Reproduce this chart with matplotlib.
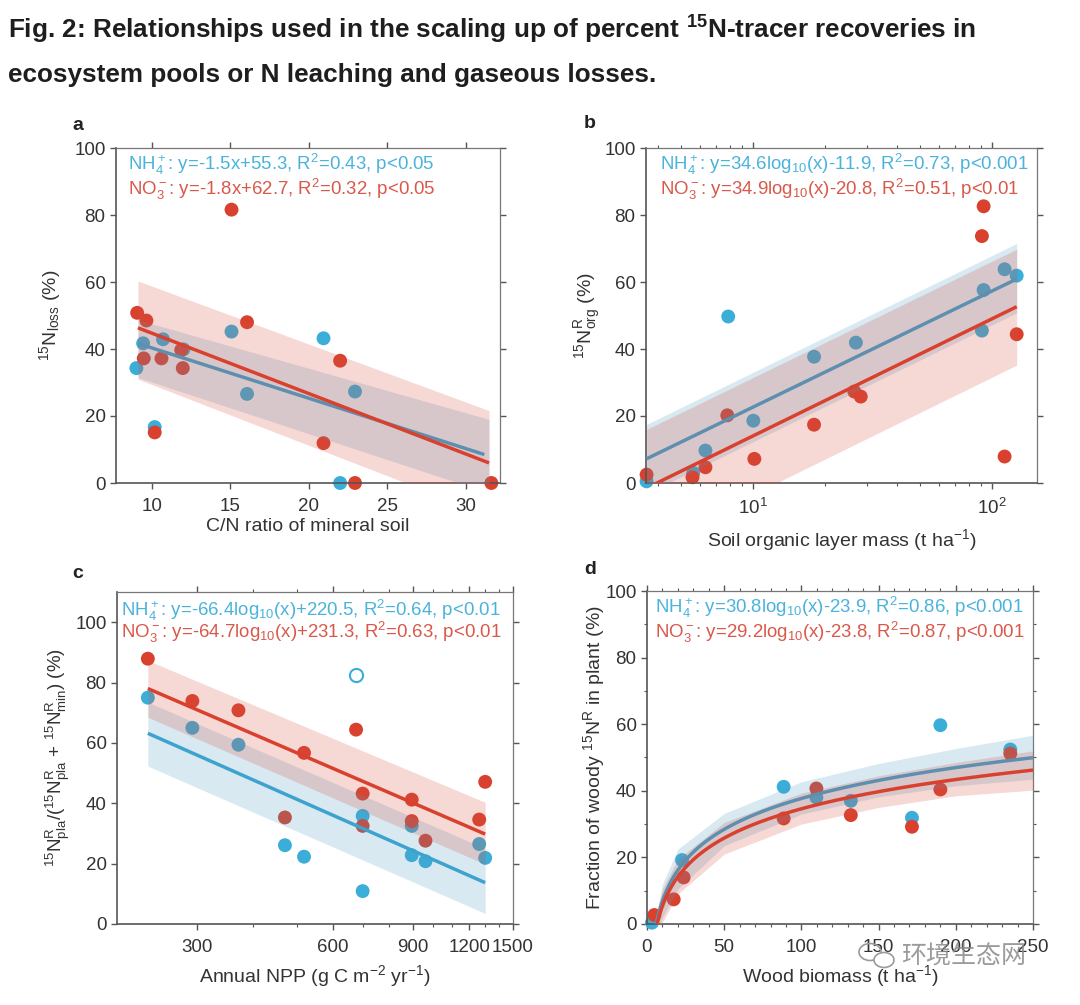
import numpy as np
import matplotlib
matplotlib.use("Agg")
import matplotlib.pyplot as plt
from matplotlib.ticker import FixedLocator, NullFormatter, FixedFormatter
from matplotlib.patches import Ellipse

plt.rcParams['font.family'] = ['Liberation Sans', 'DejaVu Sans']
plt.rcParams['mathtext.fontset'] = 'custom'
plt.rcParams['mathtext.rm'] = 'Liberation Sans'
plt.rcParams['mathtext.it'] = 'Liberation Sans:italic'
plt.rcParams['mathtext.bf'] = 'Liberation Sans:bold'

# ---------------- data ----------------
# panel a
cn_nh4 = [9.0, 9.43, 10.7, 10.17, 12.0, 15.07, 16.06, 20.94, 22.0, 22.95]
loss_nh4 = [34.3, 41.7, 42.9, 16.7, 39.9, 45.2, 26.6, 43.2, 0.0, 27.3]
cn_no3 = [9.05, 9.64, 9.47, 10.17, 10.6, 11.86, 11.96, 15.07, 16.06, 20.94, 22.0, 22.95, 31.65]
loss_no3 = [50.8, 48.5, 37.2, 15.1, 37.2, 39.7, 34.3, 81.6, 48.0, 11.9, 36.5, 0.0, 0.0]
fit_a_nh4 = (-1.5, 55.3)
fit_a_no3 = (-1.8, 62.7)
range_a_nh4 = (9.1, 31.2)
range_a_no3 = (9.1, 31.5)
band_a_x = [9.1, 31.5]
band_a_nh4_lo = [31.5, -3.0]
band_a_nh4_hi = [48.7, 19.0]
band_a_no3_lo = [31.0, -9.6]
band_a_no3_hi = [60.3, 21.6]

# panel b
som_nh4 = [3.57, 5.6, 6.3, 7.85, 10.0, 17.97, 26.9, 92.3, 90.8, 113, 127]
org_nh4 = [0.5, 3.0, 9.7, 49.7, 18.6, 37.7, 41.9, 57.6, 45.5, 63.8, 61.9]
som_no3 = [3.57, 5.56, 6.3, 7.78, 10.1, 17.97, 26.5, 28.2, 92.3, 90.8, 113, 127]
org_no3 = [2.5, 1.7, 4.7, 20.2, 7.2, 17.4, 27.3, 25.8, 82.6, 73.7, 7.9, 44.4]
fit_b_nh4 = (34.6, -11.9)
fit_b_no3 = (34.9, -20.8)
range_b = (3.57, 127)
band_b_x = [3.57, 127]
band_b_nh4_lo = [-3.2, 50.8]
band_b_nh4_hi = [17.5, 71.5]
band_b_no3_lo = [-19.0, 35.2]
band_b_no3_hi = [16.0, 69.8]

# panel c
npp_nh4 = [234, 293.5, 371, 470, 518, 698, 698, 896, 896, 961, 1263, 1302]
pla_nh4 = [75.0, 65.0, 59.4, 26.1, 22.3, 35.8, 10.9, 32.5, 22.8, 20.8, 26.5, 21.9]
npp_nh4_out = [675]
pla_nh4_out = [82.4]
npp_no3 = [234, 293.5, 371, 470, 518, 675, 698, 698, 896, 896, 961, 1263, 1302]
pla_no3 = [87.9, 73.9, 70.8, 35.3, 56.7, 64.4, 43.2, 32.5, 41.2, 34.1, 27.6, 34.6, 47.1]
fit_c_nh4 = (-66.4, 220.5)
fit_c_no3 = (-64.7, 231.3)
range_c = (234, 1302)
band_c_x = [234, 1302]
band_c_nh4_lo = [52.3, 3.5]
band_c_nh4_hi = [73.5, 25.0]
band_c_no3_lo = [68.5, 19.8]
band_c_no3_hi = [87.3, 40.3]

# panel d
wood_nh4 = [3.2, 22.7, 88.5, 109.7, 132, 171.6, 190, 235.3]
woody_nh4 = [0.4, 19.2, 41.2, 38.0, 37.0, 31.9, 59.7, 52.4]
wood_no3 = [4.75, 17.3, 23.7, 88.5, 109.7, 132, 171.6, 190, 235.3]
woody_no3 = [2.7, 7.4, 14.0, 31.7, 40.7, 32.7, 29.2, 40.4, 51.2]
fit_d_nh4 = (30.8, -23.9)
fit_d_no3 = (29.2, -23.8)
range_d_nh4 = (5.97, 250)
range_d_no3 = (6.5, 250)
band_d_x = [6, 10, 20, 50, 100, 150, 200, 250]
band_d_nh4_hi = [3, 12, 22.5, 33.2, 42.7, 48.2, 52.7, 56.7]
band_d_nh4_lo = [-3, 2, 10.5, 23.5, 33, 38.2, 41.5, 43.5]
band_d_no3_hi = [3, 10.5, 19.5, 30.5, 39.3, 44.5, 48.5, 52]
band_d_no3_lo = [-3, 0.5, 9, 21, 30, 35, 38.5, 40.2]

eq_a = [r'NH$_4^+$: y=-1.5x+55.3, R$^2$=0.43, p<0.05',
        r'NO$_3^-$: y=-1.8x+62.7, R$^2$=0.32, p<0.05']
eq_b = [r'NH$_4^+$: y=34.6log$_{10}$(x)-11.9, R$^2$=0.73, p<0.001',
        r'NO$_3^-$: y=34.9log$_{10}$(x)-20.8, R$^2$=0.51, p<0.01']
eq_c = [r'NH$_4^+$: y=-66.4log$_{10}$(x)+220.5, R$^2$=0.64, p<0.01',
        r'NO$_3^-$: y=-64.7log$_{10}$(x)+231.3, R$^2$=0.63, p<0.01']
eq_d = [r'NH$_4^+$: y=30.8log$_{10}$(x)-23.9, R$^2$=0.86, p<0.001',
        r'NO$_3^-$: y=29.2log$_{10}$(x)-23.8, R$^2$=0.87, p<0.001']

# ---------------- style ----------------
RED = '#d9412e'
BLUE = '#3aaed8'
BAND_RED = (215/255, 79/255, 67/255)
BAND_BLUE = (79/255, 159/255, 195/255)
BAND_ALPHA = 0.22
TXT_BLUE = '#4ab3dc'
TXT_RED = '#d9584a'
SPINE = '#555555'
TICKC = '#333333'
LBL = 14

W, H = 1080, 1005
fig = plt.figure(figsize=(W/100, H/100), dpi=100)
fig.patch.set_facecolor('white')


def rect(l, r, t, b):
    return [l/W, 1 - b/H, (r - l)/W, (b - t)/H]


def style(ax):
    for s in ax.spines.values():
        s.set_color(SPINE)
        s.set_linewidth(1.2)
    for s in ('top', 'right'):
        ax.spines[s].set_color('#777777')
        ax.spines[s].set_linewidth(0.9)
    ax.tick_params(which='both', direction='out', top=True, right=True,
                   colors=SPINE, labelcolor=TICKC, labelsize=13.5)
    ax.tick_params(which='major', length=4.5, width=1)
    ax.tick_params(which='minor', length=2.5, width=0.8)
    ax.tick_params(axis='x', which='major', pad=6.5)
    ax.tick_params(axis='y', which='major', pad=3)


def draw(ax, xs, ys, colors, linedefs, bands, logx=False):
    for x, y, c in zip(xs, ys, colors):
        ax.scatter(x, y, s=100, color=c, edgecolors='none', zorder=2, clip_on=False)
    for (m, b), (x0, x1), c, z in linedefs:
        if logx:
            xx = np.logspace(np.log10(x0), np.log10(x1), 200)
            yy = m*np.log10(xx) + b
        else:
            xx = np.linspace(x0, x1, 200)
            yy = m*xx + b
        ax.plot(xx, yy, color=c, lw=2.5, zorder=z, solid_capstyle='butt')
    for bx, lo, hi, c in bands:
        ax.fill_between(bx, lo, hi, color=c, alpha=BAND_ALPHA, lw=0, zorder=4)


def eq_text(ax, lines, x, y0, dy, size=13.4):
    ax.text(x, y0, lines[0], transform=ax.transAxes, color=TXT_BLUE, fontsize=size, va='center', ha='left', zorder=6)
    ax.text(x, y0 - dy, lines[1], transform=ax.transAxes, color=TXT_RED, fontsize=size, va='center', ha='left', zorder=6)


def labels(ax, xl, yl, xy, yx, ysize=LBL):
    ax.set_xlabel(xl, fontsize=LBL, color=TICKC)
    ax.set_ylabel(yl, fontsize=ysize, color=TICKC)
    ax.xaxis.set_label_coords(0.5, xy)
    ax.yaxis.set_label_coords(yx, 0.5)


yticks = [0, 20, 40, 60, 80, 100]
BLUE_LINE = '#3aa4d2'

# ---- panel a ----
ax = fig.add_axes(rect(116, 500, 148, 483))
draw(ax, [cn_nh4, cn_no3], [loss_nh4, loss_no3], [BLUE, RED],
     [(fit_a_nh4, range_a_nh4, BLUE_LINE, 3), (fit_a_no3, range_a_no3, RED, 5)],
     [(band_a_x, band_a_nh4_lo, band_a_nh4_hi, BAND_BLUE),
      (band_a_x, band_a_no3_lo, band_a_no3_hi, BAND_RED)])
ax.set_xlim(7.7, 32.2)
ax.set_ylim(0, 100)
ax.set_xticks([10, 15, 20, 25, 30])
ax.set_yticks(yticks)
style(ax)
labels(ax, 'C/N ratio of mineral soil', r'$^{15}$N$_{\mathrm{loss}}$ (%)', -0.105, -0.138)
eq_text(ax, eq_a, 0.03, 0.95, 0.073)
fig.text(78/W, 1 - 126/H, 'a', fontsize=14, fontweight='bold', ha='center', va='center', color='#222222')

# ---- panel b ----
ax = fig.add_axes(rect(646, 1037, 148, 483))
ax.set_xscale('log')
draw(ax, [som_nh4, som_no3], [org_nh4, org_no3], [BLUE, RED],
     [(fit_b_nh4, range_b, BLUE_LINE, 3), (fit_b_no3, range_b, RED, 5)],
     [(band_b_x, band_b_nh4_lo, band_b_nh4_hi, BAND_BLUE),
      (band_b_x, band_b_no3_lo, band_b_no3_hi, BAND_RED)], logx=True)
ax.set_xlim(3.55, 154.5)
ax.set_ylim(0, 100)
ax.set_xticks([10, 100])
ax.set_xticklabels([r'10$^1$', r'10$^2$'])
ax.xaxis.set_minor_locator(FixedLocator([4, 5, 6, 7, 8, 9, 20, 30, 40, 50, 60, 70, 80, 90]))
ax.xaxis.set_minor_formatter(NullFormatter())
ax.set_yticks(yticks)
style(ax)
labels(ax, r'Soil organic layer mass (t ha$^{-1}$)', r'$^{15}$N$^{\mathrm{R}}_{\mathrm{org}}$ (%)', -0.132, -0.11)
eq_text(ax, eq_b, 0.035, 0.95, 0.073)
fig.text(590/W, 1 - 123/H, 'b', fontsize=14, fontweight='bold', ha='center', va='center', color='#222222')

# ---- panel c ----
ax = fig.add_axes(rect(117, 513, 592, 924))
ax.set_xscale('log')
draw(ax, [npp_nh4, npp_no3], [pla_nh4, pla_no3], [BLUE, RED],
     [(fit_c_nh4, range_c, BLUE_LINE, 3), (fit_c_no3, range_c, RED, 5)],
     [(band_c_x, band_c_nh4_lo, band_c_nh4_hi, BAND_BLUE),
      (band_c_x, band_c_no3_lo, band_c_no3_hi, BAND_RED)], logx=True)
ax.scatter(npp_nh4_out, pla_nh4_out, s=90, facecolors='white', edgecolors=BLUE, linewidths=1.5, zorder=5)
ax.set_xlim(200, 1500)
ax.set_ylim(0, 110)
ax.xaxis.set_major_locator(FixedLocator([300, 600, 900, 1200, 1500]))
ax.xaxis.set_major_formatter(FixedFormatter(['300', '600', '900', '1200', '1500']))
ax.xaxis.set_minor_locator(FixedLocator([400, 500, 700, 800, 1000, 1100, 1300, 1400]))
ax.xaxis.set_minor_formatter(NullFormatter())
ax.set_yticks(yticks)
style(ax)
labels(ax, r'Annual NPP (g C m$^{-2}$ yr$^{-1}$)',
       r'$^{15}$N$^{\mathrm{R}}_{\mathrm{pla}}$/($^{15}$N$^{\mathrm{R}}_{\mathrm{pla}}$ + $^{15}$N$^{\mathrm{R}}_{\mathrm{min}}$) (%)',
       -0.117, -0.114, ysize=13.5)
eq_text(ax, eq_c, 0.01, 0.945, 0.068)
fig.text(78/W, 1 - 573/H, 'c', fontsize=14, fontweight='bold', ha='center', va='center', color='#222222')

# ---- panel d ----
ax = fig.add_axes(rect(647, 1033, 591, 924))
draw(ax, [wood_nh4, wood_no3], [woody_nh4, woody_no3], [BLUE, RED],
     [(fit_d_nh4, range_d_nh4, BLUE_LINE, 3), (fit_d_no3, range_d_no3, RED, 5)],
     [(band_d_x, band_d_nh4_lo, band_d_nh4_hi, BAND_BLUE),
      (band_d_x, band_d_no3_lo, band_d_no3_hi, BAND_RED)], logx=True)
ax.set_xlim(0, 250)
ax.set_ylim(0, 100)
ax.set_xticks([0, 50, 100, 150, 200, 250])
ax.xaxis.set_minor_locator(FixedLocator(list(range(10, 250, 10))))
ax.set_yticks(yticks)
ax.yaxis.set_minor_locator(FixedLocator(list(range(10, 100, 20))))
style(ax)
labels(ax, r'Wood biomass (t ha$^{-1}$)', r'Fraction of woody $^{15}$N$^{\mathrm{R}}$ in plant (%)', -0.117, -0.104)
eq_text(ax, eq_d, 0.02, 0.95, 0.073)
fig.text(590/W, 1 - 570/H, 'd', fontsize=14, fontweight='bold', ha='center', va='center', color='#222222')

# ---- title ----
title1 = r'Fig. 2: Relationships used in the scaling up of percent $^{\mathbf{15}}$N-tracer recoveries in'
title2 = 'ecosystem pools or N leaching and gaseous losses.'
fig.text(8/W, 1 - 30/H, title1, fontsize=18.8, fontweight='bold', color='#1e1e1e', va='center', ha='left')
fig.text(8/W, 1 - 75/H, title2, fontsize=18.8, fontweight='bold', color='#1e1e1e', va='center', ha='left')

# ---- watermark ----
fig.text(964/W, 1 - 956/H, '环境生态网', fontsize=18, family=['Noto Sans CJK SC', 'DejaVu Sans'],
         color='#8a8a8a', alpha=0.85, ha='center', va='center', zorder=10)
fig.add_artist(Ellipse((870/W, 1 - 952/H), 22/W, 17/H, transform=fig.transFigure, fill=False, ec='#9a9a9a', lw=1.2, zorder=10))
fig.add_artist(Ellipse((884/W, 1 - 960/H), 20/W, 15/H, transform=fig.transFigure, fc='white', ec='#9a9a9a', lw=1.2, zorder=10))

fig.savefig('out.png', dpi=100, facecolor='white')
